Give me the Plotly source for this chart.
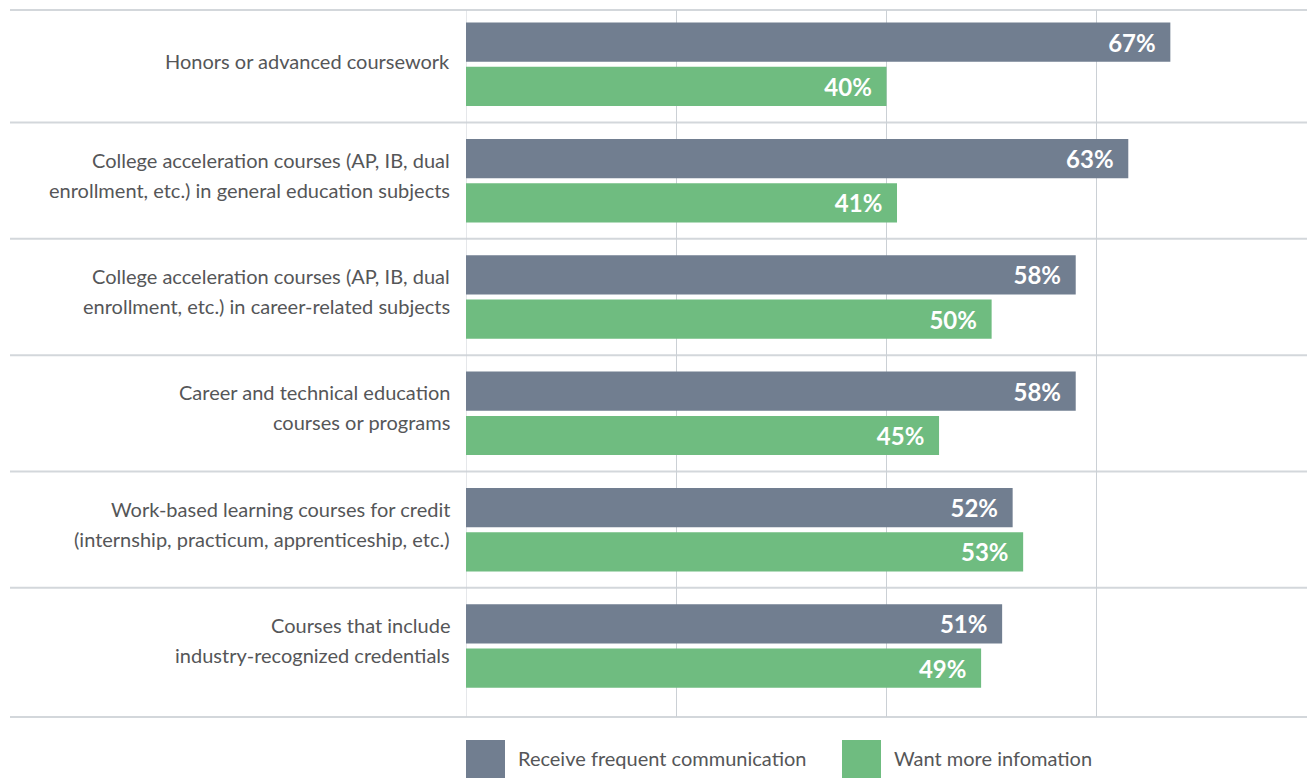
import plotly.graph_objects as go

categories = [
    "Honors or advanced coursework",
    "College acceleration courses (AP, IB, dual<br>enrollment, etc.) in general education subjects",
    "College acceleration courses (AP, IB, dual<br>enrollment, etc.) in career-related subjects",
    "Career and technical education<br>courses or programs",
    "Work-based learning courses for credit<br>(internship, practicum, apprenticeship, etc.)",
    "Courses that include<br>industry-recognized credentials",
]
receive_frequent = [67, 63, 58, 58, 52, 51]
want_more = [40, 41, 50, 45, 53, 49]
series_names = ["Receive frequent communication", "Want more infomation"]

GRAY = "#717E90"
GREEN = "#6FBC80"
TEXT = "#555658"
FONT = "Lato"

W, H = 1307, 778
ML, MR, MT, MB = 466, 0, 10, 61
plot_w = W - ML - MR
plot_h = H - MT - MB

n_cat = len(categories)
fig = go.Figure()
for name, vals, col in [(series_names[0], receive_frequent, GRAY),
                        (series_names[1], want_more, GREEN)]:
    fig.add_trace(go.Bar(
        y=list(range(n_cat)), x=vals, orientation="h", name=name,
        marker=dict(color=col, line=dict(width=0)),
        text=[f"{v}%\u00a0\u00a0" for v in vals],
        textposition="inside", insidetextanchor="end",
        textfont=dict(family=FONT, size=24, color="white", weight="bold"),
        cliponaxis=False, showlegend=False,
    ))

# category labels, one annotation per line for wider line spacing
line_gap = 30
for i, cat in enumerate(categories):
    lines = cat.split("<br>")
    n = len(lines)
    for j, ln in enumerate(lines):
        fig.add_annotation(
            x=-14 / plot_w, xref="paper", y=i, yref="y",
            text=ln, showarrow=False, xanchor="right", yanchor="middle",
            yshift=-((j - (n - 1) / 2) * line_gap) + 3 + 3 * (n - 1),
            font=dict(family=FONT, size=20, color=TEXT),
        )

# horizontal separators: top/bottom rules and lines between groups
sep_x0 = (10 - ML) / plot_w
sep_style = dict(color="#D3D7DB", width=2)
for yp in (0, 1):
    fig.add_shape(type="line", xref="paper", yref="paper",
                  x0=sep_x0, x1=1, y0=yp, y1=yp, line=sep_style, layer="below")
for k in range(n_cat - 1):
    fig.add_shape(type="line", xref="paper", yref="y",
                  x0=sep_x0, x1=1, y0=k + 0.5, y1=k + 0.5,
                  line=sep_style, layer="below")

# legend drawn as swatches + labels
leg_y0 = -(740 - (MT + plot_h)) / plot_h
leg_y1 = -(779 - (MT + plot_h)) / plot_h
for name, col, px in [(series_names[0], GRAY, 466), (series_names[1], GREEN, 842)]:
    fig.add_shape(type="rect", xref="paper", yref="paper",
                  x0=(px - ML) / plot_w, x1=(px + 39 - ML) / plot_w,
                  y0=leg_y1, y1=leg_y0, fillcolor=col, line=dict(width=0))
    fig.add_annotation(x=(px + 50 - ML) / plot_w, xref="paper",
                       y=(leg_y0 + leg_y1) / 2, yref="paper", yshift=2,
                       text=name, showarrow=False, xanchor="left", yanchor="middle",
                       font=dict(family=FONT, size=20, color=TEXT))

fig.update_layout(
    width=W, height=H,
    margin=dict(l=ML, r=MR, t=MT, b=MB, autoexpand=False),
    paper_bgcolor="white", plot_bgcolor="white",
    barmode="group", bargap=0.239, bargroupgap=0.114,
    xaxis=dict(range=[0, 80], tickvals=[0, 20, 40, 60], showticklabels=False,
               showgrid=True, gridcolor="#CBD0D5", gridwidth=1,
               zeroline=False, showline=False, fixedrange=True),
    yaxis=dict(range=[n_cat - 1 + 0.61, -0.467], showticklabels=False,
               showgrid=False, zeroline=False, showline=False, fixedrange=True),
)
fig.add_shape(type="line", xref="x", yref="paper", x0=0, x1=0, y0=0, y1=1,
              line=dict(color="#CBD0D5", width=1), layer="below")

fig.write_html("out.html")
